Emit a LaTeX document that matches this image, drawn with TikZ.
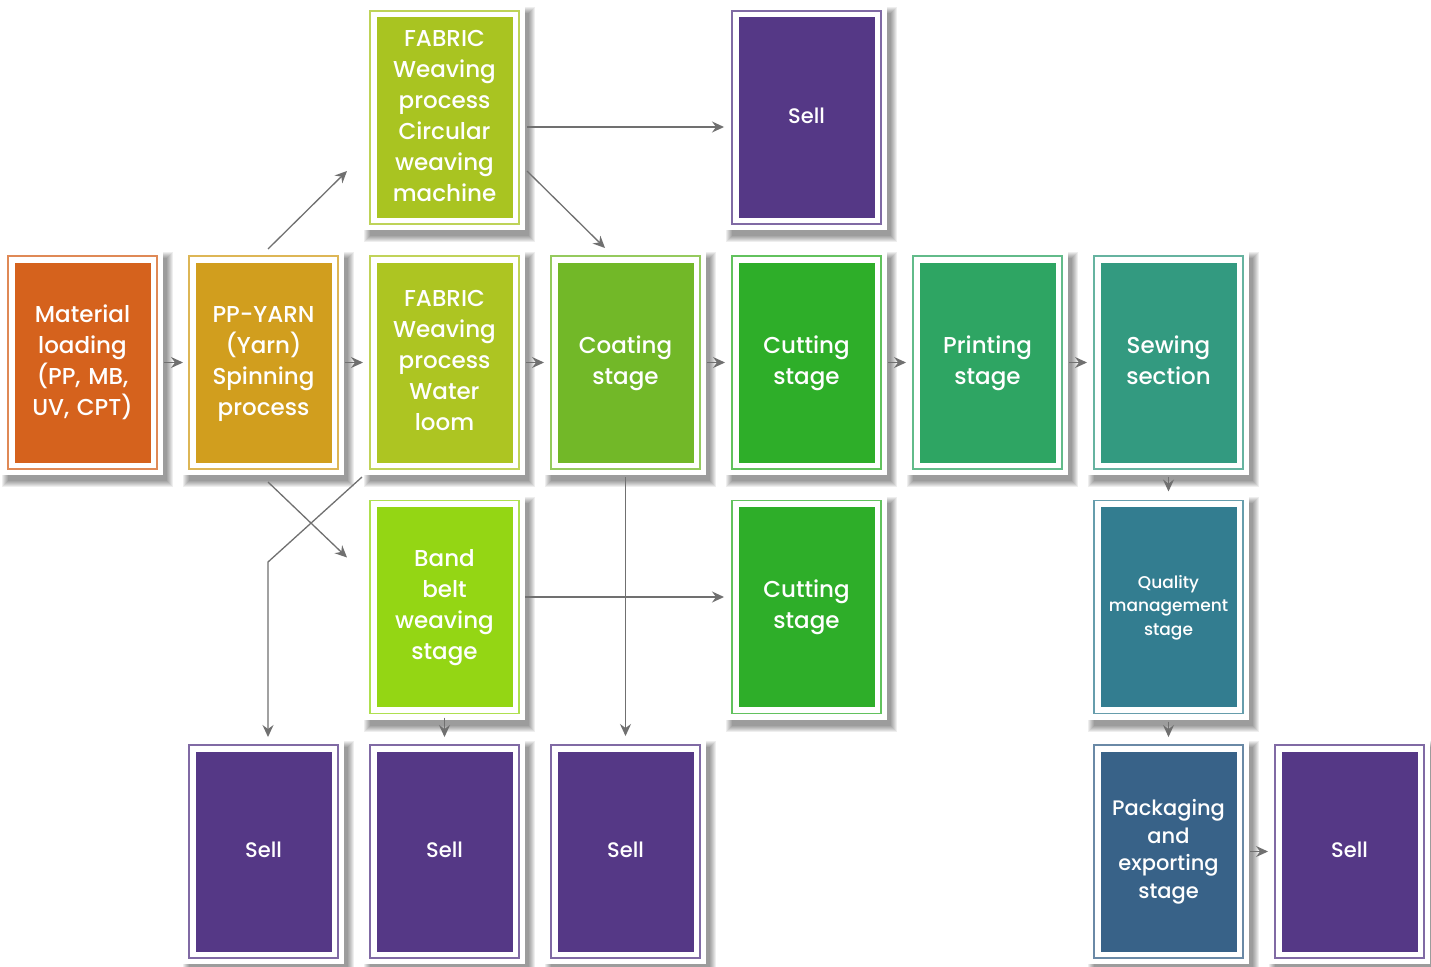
\documentclass[tikz,border=0pt]{standalone}
\usepackage{fontspec}
\setmainfont{Poppins Medium}
\usetikzlibrary{arrows.meta,calc}
\definecolor{cmat}{HTML}{D5621D}
\definecolor{cyarn}{HTML}{D19E1E}
\definecolor{ccirc}{HTML}{A9C421}
\definecolor{cwater}{HTML}{ADC522}
\definecolor{ccoat}{HTML}{72B828}
\definecolor{ccut}{HTML}{2EAE29}
\definecolor{cprint}{HTML}{2EA563}
\definecolor{csew}{HTML}{339A80}
\definecolor{cband}{HTML}{94D614}
\definecolor{cqual}{HTML}{337D90}
\definecolor{cpack}{HTML}{386288}
\definecolor{csell}{HTML}{553886}
\definecolor{carrow}{HTML}{707070}
\tikzset{
  outerbox/.style={rectangle, fill=white, line width=1.4pt, minimum width=149pt, minimum height=213pt, inner sep=0pt, outer sep=0pt},
  innerbox/.style={rectangle, minimum width=136pt, minimum height=200pt, inner sep=0pt, text=white, align=center, text width=134pt, font=\fontsize{23}{31}\selectfont, execute at begin node=\strut, execute at end node=\strut},
  selltext/.style={font=\fontsize{21}{28}\selectfont},
  qualtext/.style={font=\fontsize{17}{23.5}\selectfont},
  packtext/.style={font=\fontsize{21}{27.5}\selectfont},
  flow/.style={draw=carrow, line width=1.3pt, -{Stealth[length=12pt,width=11pt,inset=4pt]}},
}
\newcommand\mycard[6]{%
  \foreach \e in {5,4,...,-1}{\fill[black,opacity=0.065] (#2-80.5+5-\e,#3-112.5+7-\e) rectangle (#2+80.5+5+\e,#3+112.5+7+\e);}
  \fill[white] (#2-80.5,#3-112.5) rectangle (#2+80.5,#3+112.5);
  \node[outerbox,draw=#4!75!white] (#1) at (#2,#3) {};
  \node[innerbox,fill=#4,#5] (#1-in) at (#1) {#6};
}
\begin{document}
\begin{tikzpicture}[x=1pt,y=-1pt]
\useasboundingbox[fill=white] (0,0) rectangle (1431,966);
% row 1
\mycard{circ}{444.5}{117.5}{ccirc}{}{FABRIC\\Weaving\\process\\Circular\\weaving\\machine}
\mycard{sellA}{806.5}{117.5}{csell}{selltext}{Sell}
% row 2
\mycard{mat}{82.5}{362.5}{cmat}{}{Material\\loading\\(PP, MB,\\UV, CPT)}
\mycard{yarn}{263.5}{362.5}{cyarn}{}{PP-YARN\\(Yarn)\\Spinning\\process}
\mycard{water}{444.5}{362.5}{cwater}{}{FABRIC\\Weaving\\process\\Water\\loom}
\mycard{coat}{625.5}{362.5}{ccoat}{}{Coating\\stage}
\mycard{cutA}{806.5}{362.5}{ccut}{}{Cutting\\stage}
\mycard{print}{987.5}{362.5}{cprint}{}{Printing\\stage}
\mycard{sew}{1168.5}{362.5}{csew}{}{Sewing\\section}
% row 3
\mycard{band}{444.5}{607}{cband}{}{Band\\belt\\weaving\\stage}
\mycard{cutB}{806.5}{607}{ccut}{}{Cutting\\stage}
\mycard{qual}{1168.5}{607}{cqual}{qualtext}{Quality\\management\\stage}
% row 4
\mycard{sellB}{263.5}{851.5}{csell}{selltext}{Sell}
\mycard{sellC}{444.5}{851.5}{csell}{selltext}{Sell}
\mycard{sellD}{625.5}{851.5}{csell}{selltext}{Sell}
\mycard{pack}{1168.5}{851.5}{cpack}{packtext}{Packaging\\and\\exporting\\stage}
\mycard{sellE}{1349.5}{851.5}{csell}{selltext}{Sell}
% connectors
\coordinate (bend) at (268,562);
\draw[flow] ([xshift=7pt]mat.east) -- ([xshift=-6pt]yarn.west);
\draw[flow] ([xshift=7pt]yarn.east) -- ([xshift=-7pt]water.west);
\draw[flow] ([xshift=7pt]water.east) -- ([xshift=-7pt]coat.west);
\draw[flow] ([xshift=7pt]coat.east) -- ([xshift=-7pt]cutA.west);
\draw[flow] ([xshift=7pt]cutA.east) -- ([xshift=-7pt]print.west);
\draw[flow] ([xshift=7pt]print.east) -- ([xshift=-7pt]sew.west);
\draw[flow] ([xshift=4.5pt,yshift=7pt]yarn.north) -- ([xshift=-23pt,yshift=53pt]circ.south west);
\draw[flow] ([xshift=4.5pt,yshift=-13pt]yarn.south) -- ([xshift=-23pt,yshift=-57pt]band.north west);
\draw[flow] ([xshift=-8pt,yshift=-8pt]water.south west) -- (bend) -- ([xshift=4.5pt,yshift=8pt]sellB.north);
\draw[flow] ([xshift=8pt,yshift=-9.5pt]circ.east) -- ([xshift=-8pt,yshift=-9.5pt]sellA.west);
\draw[flow] ([xshift=8pt,yshift=53pt]circ.south east) -- ([xshift=-20.5pt,yshift=8pt]coat.north);
\draw[flow] ([yshift=-8pt]coat.south) -- ([yshift=9pt]sellD.north);
\draw[flow] ([xshift=6pt,yshift=10pt]band.east) -- ([xshift=-8pt,yshift=10pt]cutB.west);
\draw[flow] ([yshift=-4pt]band.south) -- ([yshift=8pt]sellC.north);
\draw[flow] ([yshift=-8pt]sew.south) -- ([yshift=9pt]qual.north);
\draw[flow] ([yshift=-8pt]qual.south) -- ([yshift=8pt]pack.north);
\draw[flow] ([xshift=7pt]pack.east) -- ([xshift=-7pt]sellE.west);
\end{tikzpicture}
\end{document}
